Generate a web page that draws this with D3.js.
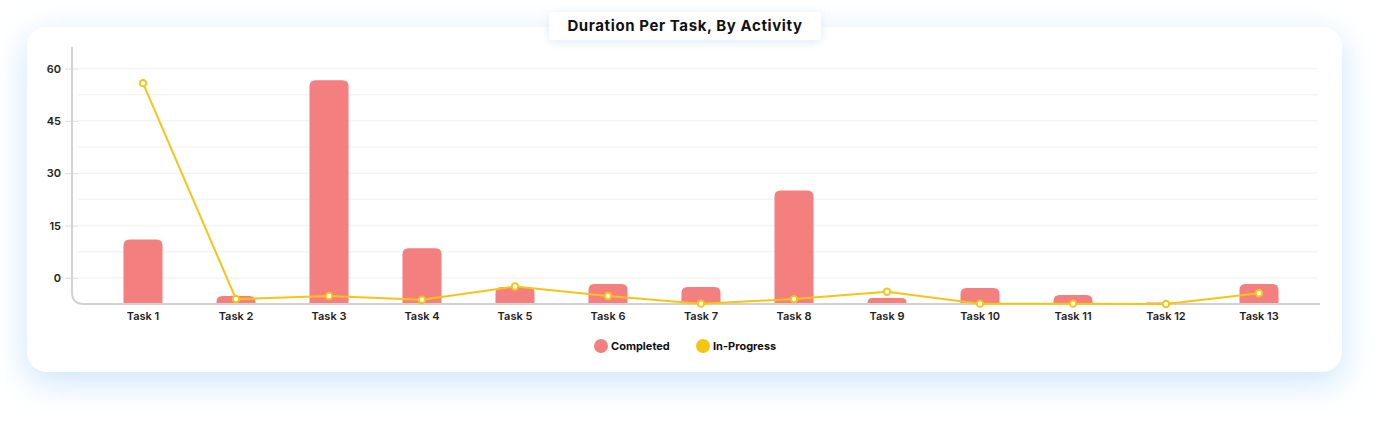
<!DOCTYPE html>
<html>
<head>
<meta charset="utf-8">
<script src="https://d3js.org/d3.v7.min.js"></script>
<style>
body { margin: 0; background: #fff; font-family: Inter, 'Open Sans', sans-serif; }
svg { display: block; }
</style>
</head>
<body>
<div id="chart"></div>
<script>
var tasks = ["Task 1", "Task 2", "Task 3", "Task 4", "Task 5", "Task 6", "Task 7",
             "Task 8", "Task 9", "Task 10", "Task 11", "Task 12", "Task 13"];
var completed  = [11, -5.2, 56.6, 8.5, -2.6, -1.8, -2.6, 25, -5.8, -2.9, -4.9, -7.1, -1.8];
var inProgress = [55.8, -6.1, -5.2, -6.3, -2.5, -5.2, -7.4, -6.1, -4.0, -7.4, -7.4, -7.5, -4.4];
var yTicks = [0, 15, 30, 45, 60];
var gridTicks = [0, 7.5, 15, 22.5, 30, 37.5, 45, 52.5, 60];
var yMin = -7.5;

var W = 1392, H = 422;
var svg = d3.select("#chart").append("svg")
    .attr("width", W).attr("height", H);

var defs = svg.append("defs");
var f1 = defs.append("filter").attr("id", "cardShadow")
    .attr("x", "-10%").attr("y", "-40%").attr("width", "120%").attr("height", "180%");
f1.append("feDropShadow").attr("dx", 0).attr("dy", 10).attr("stdDeviation", 17)
    .attr("flood-color", "#cbe4fb").attr("flood-opacity", 1);
var f2 = defs.append("filter").attr("id", "titleShadow")
    .attr("x", "-20%").attr("y", "-60%").attr("width", "140%").attr("height", "220%");
f2.append("feDropShadow").attr("dx", 0).attr("dy", 2).attr("stdDeviation", 5)
    .attr("flood-color", "#d6e9fb").attr("flood-opacity", 0.9);

// card
svg.append("rect")
    .attr("x", 27).attr("y", 27).attr("width", 1315).attr("height", 345)
    .attr("rx", 20).attr("fill", "#fff")
    .attr("filter", "url(#cardShadow)");

// title box
svg.append("rect")
    .attr("x", 549).attr("y", 12).attr("width", 272).attr("height", 28)
    .attr("rx", 3).attr("fill", "#fff")
    .attr("filter", "url(#titleShadow)");
svg.append("text")
    .attr("x", 685).attr("y", 30.5)
    .attr("text-anchor", "middle")
    .attr("font-size", 15).attr("font-weight", 700).attr("fill", "#111")
    .attr("letter-spacing", 0.6)
    .text("Duration Per Task, By Activity");

var x = d3.scaleBand().domain(tasks).range([96.5, 1305.5])
    .paddingInner(0.58).paddingOuter(0.29);
var y = d3.scaleLinear().domain([yMin, 60]).range([304, 68.5]);

var g = svg.append("g");

// grid lines
g.selectAll("line.grid").data(gridTicks).enter().append("line")
    .attr("class", "grid")
    .attr("x1", 78).attr("x2", 1318)
    .attr("y1", function(d) { return y(d); })
    .attr("y2", function(d) { return y(d); })
    .attr("stroke", "#f4f4f4").attr("stroke-width", 1.5);

// y axis
var yAxis = g.append("g")
    .attr("transform", "translate(78,0)")
    .call(d3.axisLeft(y).tickValues(yTicks).tickSize(13).tickPadding(4));
yAxis.select(".domain").remove();
yAxis.selectAll(".tick line").attr("stroke", "#ddd");
yAxis.selectAll(".tick text")
    .attr("font-family", "Inter, 'Open Sans', sans-serif")
    .attr("font-size", 11).attr("font-weight", 600).attr("fill", "#222");

// axis lines with rounded corner
var yb = y(yMin);
g.append("path")
    .attr("d", "M72,47 V" + (yb - 12) + " Q72," + yb + " 84," + yb + " H1320")
    .attr("fill", "none").attr("stroke", "#d2d2d2").attr("stroke-width", 2);

// x axis labels
var xAxis = g.append("g")
    .attr("transform", "translate(0," + yb + ")")
    .call(d3.axisBottom(x).tickSize(0).tickPadding(8));
xAxis.select(".domain").remove();
xAxis.selectAll(".tick text")
    .attr("font-family", "Inter, 'Open Sans', sans-serif")
    .attr("font-size", 11).attr("font-weight", 600).attr("fill", "#222");

// bars with rounded tops
function barPath(d, i) {
    var x0 = x(tasks[i]), w = x.bandwidth(), x1 = x0 + w;
    var top = y(d), bot = yb - 1;
    var h = bot - top;
    var r = Math.max(0, Math.min(6, h, w / 2));
    return "M" + x0 + "," + bot + " V" + (top + r) +
        " Q" + x0 + "," + top + " " + (x0 + r) + "," + top +
        " H" + (x1 - r) +
        " Q" + x1 + "," + top + " " + x1 + "," + (top + r) +
        " V" + bot + " Z";
}
g.selectAll("path.bar").data(completed).enter().append("path")
    .attr("class", "bar")
    .attr("d", barPath)
    .attr("fill", "#f47f7f");

// in-progress line
var line = d3.line()
    .x(function(d, i) { return x(tasks[i]) + x.bandwidth() / 2; })
    .y(function(d) { return y(d); });
g.append("path")
    .datum(inProgress)
    .attr("d", line)
    .attr("fill", "none").attr("stroke", "#f6c512").attr("stroke-width", 2);
g.selectAll("circle.pt").data(inProgress).enter().append("circle")
    .attr("class", "pt")
    .attr("cx", function(d, i) { return x(tasks[i]) + x.bandwidth() / 2; })
    .attr("cy", function(d) { return y(d); })
    .attr("r", 3.2)
    .attr("fill", "#fff").attr("stroke", "#f6c512").attr("stroke-width", 2);

// legend
var legendItems = [
    { name: "Completed", color: "#f47f7f", x: 601 },
    { name: "In-Progress", color: "#f6c512", x: 703 }
];
var lg = svg.selectAll("g.legend").data(legendItems).enter().append("g")
    .attr("class", "legend")
    .attr("transform", function(d) { return "translate(" + d.x + ",346)"; });
lg.append("circle").attr("r", 7).attr("fill", function(d) { return d.color; });
lg.append("text")
    .attr("x", 10).attr("y", 4)
    .attr("font-size", 11).attr("font-weight", 700).attr("fill", "#111")
    .text(function(d) { return d.name; });
</script>
</body>
</html>
